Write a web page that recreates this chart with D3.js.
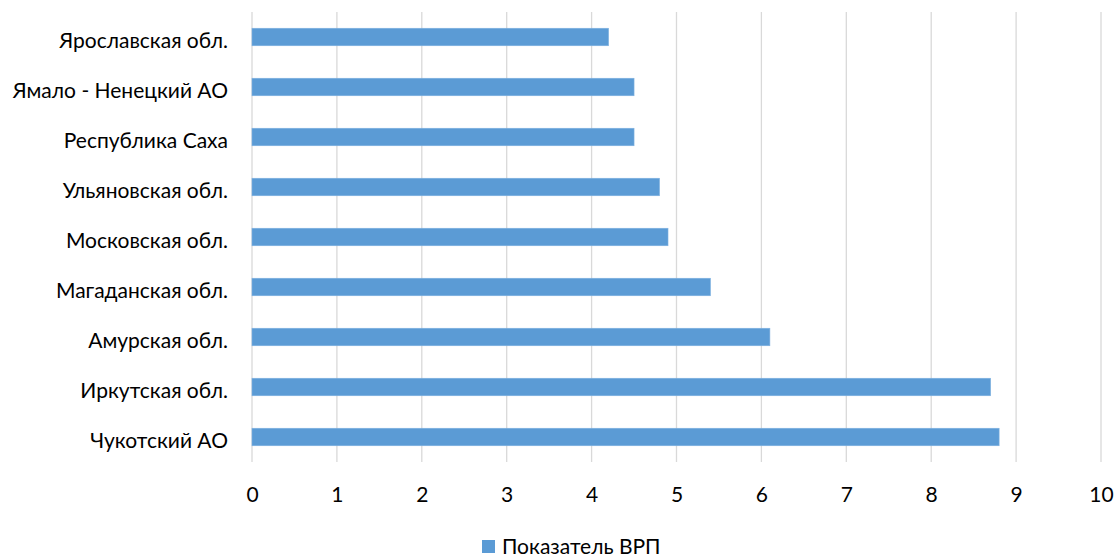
<!DOCTYPE html>
<html>
<head>
<meta charset="utf-8">
<script src="https://cdn.jsdelivr.net/npm/d3@7"></script>
<style>
  html, body { margin: 0; padding: 0; background: #fff; overflow: hidden; }
  svg { display: block; }
  text { font-family: Lato, "Open Sans", sans-serif; fill: #000; }
</style>
</head>
<body>
<svg id="chart" width="1115" height="556"></svg>
<script>
// Regions, top to bottom
const regions = [
  "Ярославская обл.",
  "Ямало - Ненецкий АО",
  "Республика Саха",
  "Ульяновская обл.",
  "Московская обл.",
  "Магаданская обл.",
  "Амурская обл.",
  "Иркутская обл.",
  "Чукотский АО"
];
const grpValues = [4.2, 4.5, 4.5, 4.8, 4.9, 5.4, 6.1, 8.7, 8.8];
const xTicks = [0, 1, 2, 3, 4, 5, 6, 7, 8, 9, 10];
const seriesName = "Показатель ВРП";

const fontSize = 21;
const svg = d3.select("#chart");
const plotLeft = 252, plotRight = 1101, plotTop = 12, plotBottom = 462;

const x = d3.scaleLinear().domain([0, 10]).range([plotLeft, plotRight]);
const y = d3.scaleBand().domain(regions).range([plotTop, plotBottom]).paddingInner(0.65).paddingOuter(0.325);

// vertical gridlines
svg.append("g")
  .selectAll("line")
  .data(xTicks)
  .join("line")
  .attr("x1", d => x(d)).attr("x2", d => x(d))
  .attr("y1", plotTop).attr("y2", plotBottom)
  .attr("stroke", "#d9d9d9")
  .attr("stroke-width", 1.3);

// bars
svg.append("g")
  .selectAll("rect")
  .data(regions)
  .join("rect")
  .attr("x", x(0))
  .attr("y", d => y(d))
  .attr("width", (d, i) => x(grpValues[i]) - x(0))
  .attr("height", y.bandwidth())
  .attr("fill", "#5b9bd5")
  .attr("stroke", "#7fb1e0")
  .attr("stroke-width", 0.6);

// category labels
const yAxis = d3.axisLeft(y).tickSize(0).tickPadding(24);
const gy = svg.append("g").attr("transform", `translate(${plotLeft},0)`).call(yAxis);
gy.select(".domain").remove();
gy.selectAll("text").style("font-size", fontSize + "px").attr("font-family", null)
  .attr("dy", null).attr("y", 10.5);

// value axis labels
const xAxis = d3.axisBottom(x).tickValues(xTicks).tickSize(0).tickPadding(0).tickFormat(d3.format("d"));
const gx = svg.append("g").attr("transform", `translate(0,${plotBottom})`).call(xAxis);
gx.select(".domain").remove();
gx.selectAll("text").style("font-size", fontSize + "px").attr("font-family", null)
  .attr("dy", null).attr("y", 39.5);

// legend
const legend = svg.append("g").attr("transform", "translate(482,540)");
legend.append("rect").attr("width", 13).attr("height", 13).attr("fill", "#5b9bd5");
legend.append("text").attr("x", 20).attr("y", 13.5)
  .style("font-size", fontSize + "px").text(seriesName);
</script>
</body>
</html>
